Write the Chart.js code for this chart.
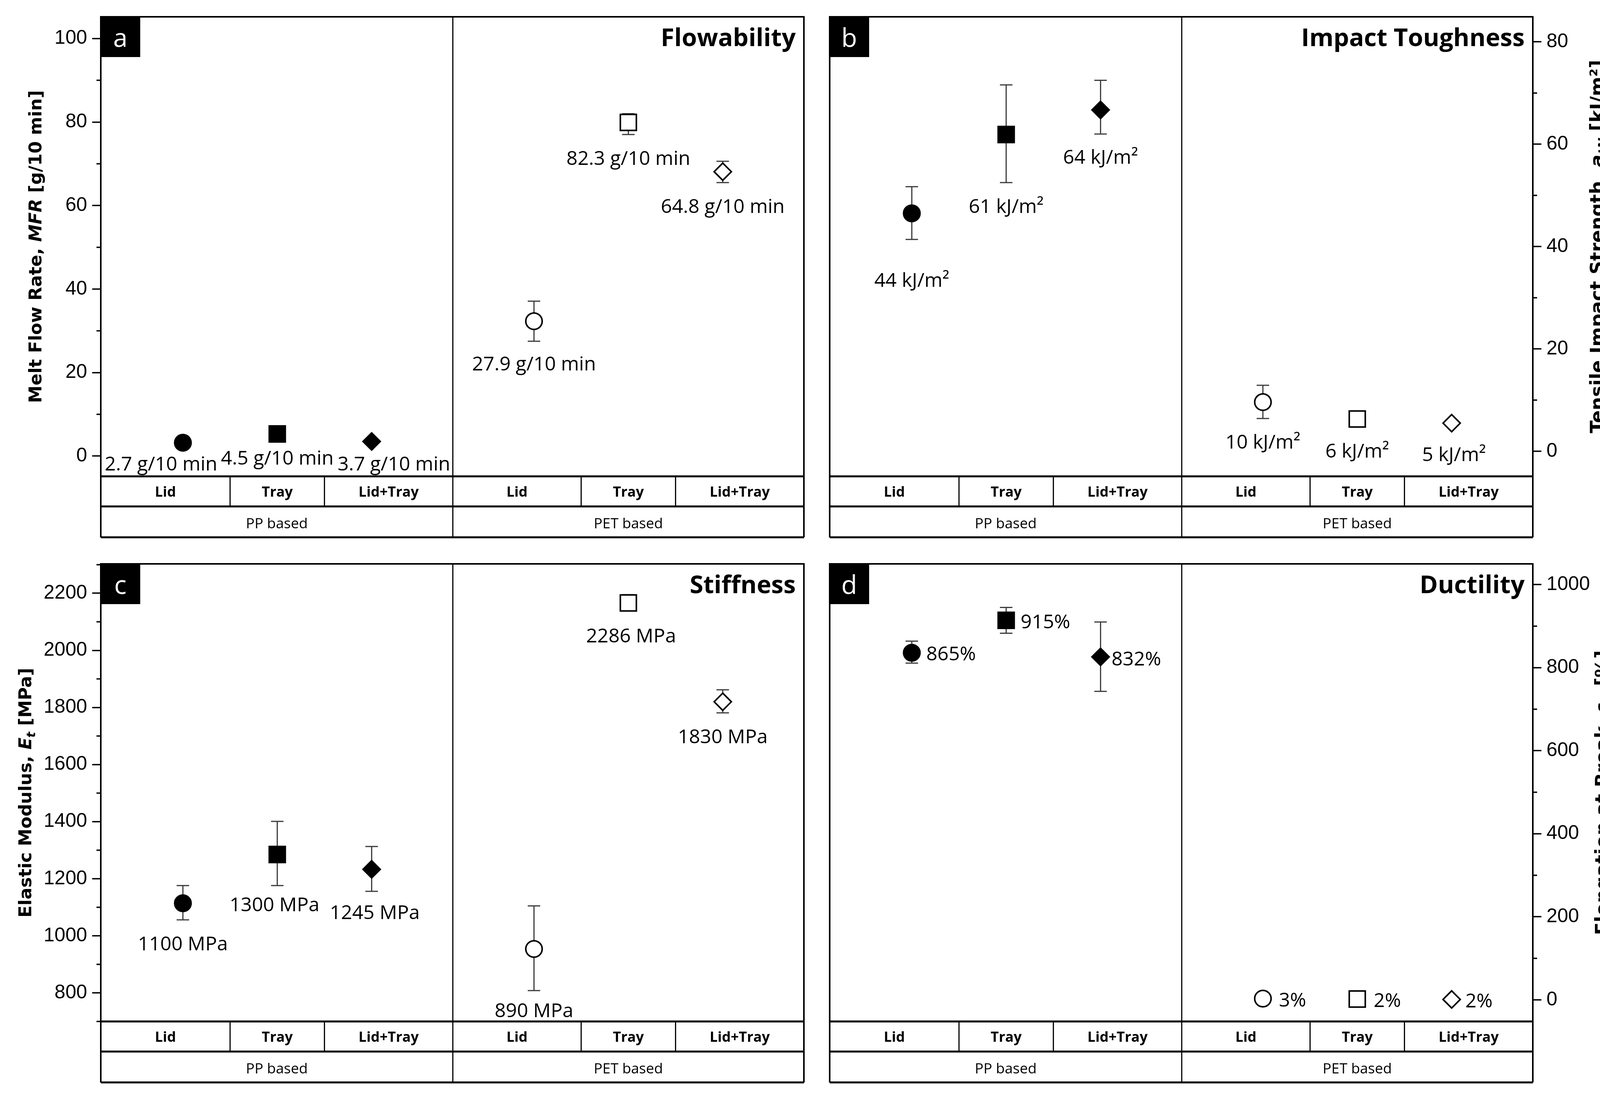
<!DOCTYPE html>
<html>
<head>
<meta charset="utf-8">
<script src="https://cdn.jsdelivr.net/npm/chart.js@4.4.0/dist/chart.umd.min.js"></script>
<style>
  body { margin: 0; background: #fff; }
  #page { position: relative; width: 4164px; height: 2815px; background: #fff; overflow: hidden; }
  canvas { position: absolute; }
</style>
</head>
<body>
<div id="page">
  <canvas id="panelA" width="2090" height="1400" style="left:0;top:0"></canvas>
  <canvas id="panelB" width="2074" height="1400" style="left:2090px;top:0"></canvas>
  <canvas id="panelC" width="2090" height="1415" style="left:0;top:1400px"></canvas>
  <canvas id="panelD" width="2074" height="1415" style="left:2090px;top:1400px"></canvas>
</div>
<script>
// Categories shared by all four panels
const categories = ['Lid', 'Tray', 'Lid+Tray'];
const groups = ['PP based', 'PET based'];
const markerStyles = ['circle', 'rect', 'rectRot'];
const markerRadius = [21, 29, 22];

// x positions: three samples per group, second group shifted right
const groupOffset = [0, 3.72];
const xMin = 0.13, xMax = 7.58;

// (a) Melt flow rate [g/10 min]
const mfrPP = [3.2, 5.3, 3.5];
const mfrPET = [32.3, 79.9, 68.1];
const mfrPETLow = [27.5, 77.0, 65.5];
const mfrPETHigh = [37.1, 82.0, 70.6];
const mfrLabelsPP = ['2.7 g/10 min', '4.5 g/10 min', '3.7 g/10 min'];
const mfrLabelsPET = ['27.9 g/10 min', '82.3 g/10 min', '64.8 g/10 min'];
const mfrTicks = [0, 20, 40, 60, 80, 100];

// (b) Tensile impact strength [kJ/m2]
const impactPP = [46.5, 61.9, 66.7];
const impactPPLow = [41.4, 52.5, 62.0];
const impactPPHigh = [51.7, 71.6, 72.5];
const impactPET = [9.6, 6.3, 5.5];
const impactPETLow = [6.4, null, null];
const impactPETHigh = [12.9, null, null];
const impactLabelsPP = ['44 kJ/m²', '61 kJ/m²', '64 kJ/m²'];
const impactLabelsPET = ['10 kJ/m²', '6 kJ/m²', '5 kJ/m²'];
const impactTicks = [0, 20, 40, 60, 80];

// (c) Elastic modulus [MPa]
const modulusPP = [1114, 1285, 1233];
const modulusPPLow = [1056, 1176, 1156];
const modulusPPHigh = [1176, 1401, 1313];
const modulusPET = [954, 2166, 1820];
const modulusPETLow = [808, 2140, 1781];
const modulusPETHigh = [1105, 2195, 1862];
const modulusLabelsPP = ['1100 MPa', '1300 MPa', '1245 MPa'];
const modulusLabelsPET = ['890 MPa', '2286 MPa', '1830 MPa'];
const modulusTicks = [800, 1000, 1200, 1400, 1600, 1800, 2000, 2200];

// (d) Elongation at break [%]
const elongPP = [836, 914, 826];
const elongPPLow = [811, 883, 743];
const elongPPHigh = [864, 945, 910];
const elongPET = [3, 2, 1];
const elongLabelsPP = ['865%', '915%', '832%'];
const elongLabelsPET = ['3%', '2%', '2%'];
const elongTicks = [0, 200, 400, 600, 800, 1000];

const LABEL_FONT = '50px "Open Sans"';

function drawRotatedTitle(ctx, parts, cx, cy, size) {
    ctx.save();
    ctx.translate(cx, cy);
    ctx.rotate(-Math.PI / 2);
    ctx.fillStyle = '#000';
    ctx.textBaseline = 'alphabetic';
    ctx.textAlign = 'left';
    const fontOf = p => `${p.i ? 'italic ' : ''}bold ${p.sub ? Math.round(size * 0.68) : size}px "DejaVu Sans"`;
    let total = 0;
    parts.forEach(p => { ctx.font = fontOf(p); total += ctx.measureText(p.t).width; });
    let x = -total / 2;
    const base = size * 0.36;
    parts.forEach(p => {
        ctx.font = fontOf(p);
        ctx.fillText(p.t, x, base + (p.sub ? size * 0.22 : 0));
        x += ctx.measureText(p.t).width;
    });
    ctx.restore();
}

const panelDecor = {
    id: 'panelDecor',
    beforeDatasetsDraw(chart) {
        // error bars behind the markers
        const ctx = chart.ctx, ys = chart.scales.y;
        ctx.save();
        ctx.strokeStyle = '#3a3a3a';
        ctx.lineWidth = 3;
        chart.data.datasets.forEach((ds, di) => {
            if (!ds.errLow) return;
            chart.getDatasetMeta(di).data.forEach((pt, i) => {
                if (ds.errLow[i] == null) return;
                const y1 = ys.getPixelForValue(ds.errLow[i]);
                const y2 = ys.getPixelForValue(ds.errHigh[i]);
                ctx.beginPath();
                ctx.moveTo(pt.x, y1); ctx.lineTo(pt.x, y2);
                ctx.moveTo(pt.x - 16, y1); ctx.lineTo(pt.x + 16, y1);
                ctx.moveTo(pt.x - 16, y2); ctx.lineTo(pt.x + 16, y2);
                ctx.stroke();
            });
        });
        ctx.restore();
    },
    afterDraw(chart, args, opts) {
        const ctx = chart.ctx, ca = chart.chartArea;
        const xs = chart.scales.x, ys = chart.scales.y;
        const divider = (groupOffset[0] + 3 + groupOffset[1] + 1) / 2;
        const dx = xs.getPixelForValue(divider);
        const r1 = ca.bottom + 77, r2 = r1 + 79;
        ctx.save();
        ctx.strokeStyle = '#000';
        ctx.fillStyle = '#000';

        // minor ticks
        const step = opts.ticks[1] - opts.ticks[0];
        ctx.lineWidth = 3.5;
        for (let v = opts.ticks[0] - step / 2; v <= ys.max; v += step) {
            if (v < ys.min) continue;
            const py = ys.getPixelForValue(v);
            ctx.beginPath();
            if (opts.side === 'left') { ctx.moveTo(ca.left - 11, py); ctx.lineTo(ca.left, py); }
            else { ctx.moveTo(ca.right, py); ctx.lineTo(ca.right + 11, py); }
            ctx.stroke();
        }

        // frame + group divider
        ctx.lineWidth = 4;
        ctx.beginPath();
        ctx.moveTo(ca.left, r2); ctx.lineTo(ca.left, ca.top); ctx.lineTo(ca.right, ca.top); ctx.lineTo(ca.right, r2);
        ctx.stroke();
        ctx.lineWidth = 3;
        ctx.beginPath();
        ctx.moveTo(dx, ca.top); ctx.lineTo(dx, r2);
        ctx.stroke();

        // table rows
        ctx.lineWidth = 5;
        [ca.bottom, r1, r2].forEach(y => {
            ctx.beginPath(); ctx.moveTo(ca.left, y); ctx.lineTo(ca.right, y); ctx.stroke();
        });
        ctx.textAlign = 'center';
        ctx.textBaseline = 'alphabetic';
        groups.forEach((g, gi) => {
            const start = gi === 0 ? xMin : divider;
            const end = gi === 0 ? divider : xMax;
            const bounds = [start, groupOffset[gi] + 1.5, groupOffset[gi] + 2.5, end];
            ctx.lineWidth = 3;
            [bounds[1], bounds[2]].forEach(b => {
                const px = xs.getPixelForValue(b);
                ctx.beginPath(); ctx.moveTo(px, ca.bottom); ctx.lineTo(px, r1); ctx.stroke();
            });
            ctx.font = 'bold 36px "Open Sans"';
            categories.forEach((c, i) => {
                const cx = (xs.getPixelForValue(bounds[i]) + xs.getPixelForValue(bounds[i + 1])) / 2;
                ctx.fillText(c, cx, (ca.bottom + r1) / 2 + 13);
            });
            ctx.font = '37px "Open Sans"';
            ctx.fillText(g, (xs.getPixelForValue(start) + xs.getPixelForValue(end)) / 2, (r1 + r2) / 2 + 16);
        });

        // value labels
        ctx.font = LABEL_FONT;
        chart.data.datasets.forEach((ds, di) => {
            chart.getDatasetMeta(di).data.forEach((pt, i) => {
                const off = opts.labelOffsets[di][i];
                ctx.textAlign = opts.labelAlign;
                ctx.fillText(ds.texts[i], pt.x + off[0], pt.y + off[1] + 18);
            });
        });

        // panel letter box
        ctx.fillRect(ca.left, ca.top, 101, 103);
        ctx.fillStyle = '#fff';
        ctx.font = '66px "Open Sans"';
        ctx.textAlign = 'center';
        ctx.fillText(opts.letter, ca.left + 50, ca.top + 77);

        // property title
        ctx.fillStyle = '#000';
        ctx.font = 'bold 63px "Open Sans"';
        ctx.textAlign = 'right';
        ctx.fillText(opts.title, ca.right - 21, ca.top + 75);
        ctx.restore();

        drawRotatedTitle(ctx, opts.axisTitle, opts.axisTitleX, (ca.top + ca.bottom) / 2, opts.axisTitleSize);
    }
};

function makePanel(id, cfg) {
    const series = [
        { values: cfg.pp, low: cfg.ppLow, high: cfg.ppHigh, texts: cfg.ppLabels, fill: '#000' },
        { values: cfg.pet, low: cfg.petLow, high: cfg.petHigh, texts: cfg.petLabels, fill: '#fff' }
    ];
    return new Chart(document.getElementById(id), {
        type: 'scatter',
        data: {
            datasets: series.map((s, g) => ({
                label: groups[g],
                data: s.values.map((v, i) => ({ x: groupOffset[g] + i + 1, y: v })),
                pointStyle: markerStyles,
                pointRadius: markerRadius,
                pointHoverRadius: markerRadius,
                backgroundColor: s.fill,
                borderColor: '#000',
                borderWidth: 4,
                errLow: s.low,
                errHigh: s.high,
                texts: s.texts
            }))
        },
        options: {
            responsive: false,
            animation: false,
            devicePixelRatio: 1,
            events: [],
            layout: { autoPadding: false, padding: cfg.padding },
            plugins: {
                legend: { display: false },
                tooltip: { enabled: false },
                panelDecor: cfg.decor
            },
            scales: {
                x: { type: 'linear', display: false, min: xMin, max: xMax },
                y: {
                    position: cfg.decor.side,
                    min: cfg.min,
                    max: cfg.max,
                    afterFit: sc => { sc.width = cfg.axisWidth; },
                    afterBuildTicks: sc => { sc.ticks = cfg.decor.ticks.map(v => ({ value: v })); },
                    grid: { drawOnChartArea: false, drawTicks: true, tickLength: 22, color: '#000', lineWidth: 3.5 },
                    border: { display: false },
                    ticks: {
                        color: '#000',
                        font: { family: '"Liberation Sans", Arial', size: 50 },
                        padding: 13,
                        autoSkip: false,
                        maxRotation: 0,
                        callback: v => String(v)
                    }
                }
            }
        },
        plugins: [panelDecor]
    });
}

makePanel('panelA', {
    pp: mfrPP, ppLow: null, ppHigh: null, ppLabels: mfrLabelsPP,
    pet: mfrPET, petLow: mfrPETLow, petHigh: mfrPETHigh, petLabels: mfrLabelsPET,
    min: -4.85, max: 105.2, axisWidth: 258,
    padding: { left: 0, right: 32, top: 40, bottom: 181 },
    decor: {
        side: 'left', ticks: mfrTicks, letter: 'a', title: 'Flowability',
        axisTitle: [{ t: 'Melt Flow Rate, ' }, { t: 'MFR', i: true }, { t: ' [g/10 min]' }],
        axisTitleX: 90, axisTitleSize: 45, labelAlign: 'center',
        labelOffsets: [[[-56, 53], [0, 60], [57, 56]], [[0, 108], [0, 91], [0, 88]]]
    }
});

makePanel('panelB', {
    pp: impactPP, ppLow: impactPPLow, ppHigh: impactPPHigh, ppLabels: impactLabelsPP,
    pet: impactPET, petLow: impactPETLow, petHigh: impactPETHigh, petLabels: impactLabelsPET,
    min: -4.9, max: 84.9, axisWidth: 240,
    padding: { left: 34, right: 0, top: 40, bottom: 181 },
    decor: {
        side: 'right', ticks: impactTicks, letter: 'b', title: 'Impact Toughness',
        axisTitle: [{ t: 'Tensile Impact Strength, ' }, { t: 'a', i: true }, { t: 'tN', i: true, sub: true }, { t: ' [kJ/m²]' }],
        axisTitleX: 1998, axisTitleSize: 48, labelAlign: 'center',
        labelOffsets: [[[0, 170], [0, 183], [0, 120]], [[0, 101], [0, 81], [6, 79]]]
    }
});

makePanel('panelC', {
    pp: modulusPP, ppLow: modulusPPLow, ppHigh: modulusPPHigh, ppLabels: modulusLabelsPP,
    pet: modulusPET, petLow: modulusPETLow, petHigh: modulusPETHigh, petLabels: modulusLabelsPET,
    min: 700, max: 2303, axisWidth: 258,
    padding: { left: 0, right: 32, top: 34, bottom: 201 },
    decor: {
        side: 'left', ticks: modulusTicks, letter: 'c', title: 'Stiffness',
        axisTitle: [{ t: 'Elastic Modulus, ' }, { t: 'E', i: true }, { t: 't', i: true, sub: true }, { t: ' [MPa]' }],
        axisTitleX: 64, axisTitleSize: 45, labelAlign: 'center',
        labelOffsets: [[[0, 102], [-7, 127], [8, 109]], [[0, 157], [7, 83], [0, 88]]]
    }
});

makePanel('panelD', {
    pp: elongPP, ppLow: elongPPLow, ppHigh: elongPPHigh, ppLabels: elongLabelsPP,
    pet: elongPET, petLow: null, petHigh: null, petLabels: elongLabelsPET,
    min: -52, max: 1050, axisWidth: 240,
    padding: { left: 34, right: 0, top: 34, bottom: 201 },
    decor: {
        side: 'right', ticks: elongTicks, letter: 'd', title: 'Ductility',
        axisTitle: [{ t: 'Elongation at Break, ε' }, { t: 'b', sub: true }, { t: ' [%]' }],
        axisTitleX: 2011, axisTitleSize: 48, labelAlign: 'left',
        labelOffsets: [[[37, 2], [37, 2], [28, 4]], [[41, 2], [42, 2], [35, 2]]]
    }
});
</script>
</body>
</html>
